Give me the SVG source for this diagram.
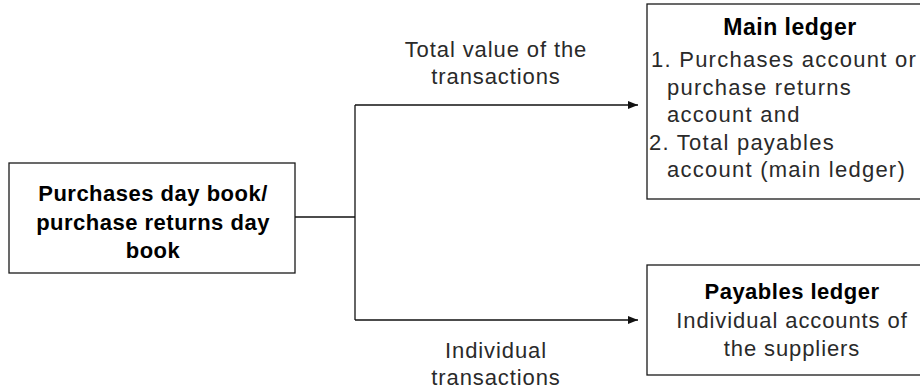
<svg xmlns="http://www.w3.org/2000/svg" width="920" height="392" viewBox="0 0 920 392">
<defs>
<style>
.box{fill:#fff;stroke:#1a1a1a;stroke-width:1.3}
.line{fill:none;stroke:#111;stroke-width:1.3}
.b{font-family:"Liberation Sans",Arial,sans-serif;font-weight:bold;font-size:22px;fill:#000;letter-spacing:0.5px}
.t{font-family:"Liberation Sans",Arial,sans-serif;font-size:22px;fill:#2a2a2a;letter-spacing:0.9px}
.w{letter-spacing:1.25px}
.c{text-anchor:middle}
</style>
<marker id="arr" viewBox="0 0 10 10" refX="10" refY="5" markerWidth="10" markerHeight="10" markerUnits="userSpaceOnUse" orient="auto">
<path d="M0,1 L10,5 L0,9 Z" fill="#111"/>
</marker>
</defs>
<rect width="920" height="392" fill="#fff"/>
<g id="connectors">
<path class="line" d="M295,217 H355"/>
<path class="line" d="M355,105 V320"/>
<path class="line" d="M355,105 H638" marker-end="url(#arr)"/>
<path class="line" d="M355,320 H638" marker-end="url(#arr)"/>
<text class="t c" x="496" y="57">Total value of the</text>
<text class="t c" x="496" y="84">transactions</text>
<text class="t c" x="496" y="358">Individual</text>
<text class="t c" x="496" y="385">transactions</text>
</g>
<g id="day-book">
<rect class="box" x="9" y="163" width="286" height="110"/>
<text class="b c" x="153" y="201">Purchases day book/</text>
<text class="b c" x="153" y="230">purchase returns day</text>
<text class="b c" x="153" y="258">book</text>
</g>
<g id="main-ledger">
<rect class="box" x="647" y="4" width="290" height="195"/>
<text class="b c" x="790" y="35" style="font-size:23px">Main ledger</text>
<text class="t w" x="651" y="67">1. Purchases account or</text>
<text class="t w" x="667" y="95">purchase returns</text>
<text class="t w" x="667" y="122">account and</text>
<text class="t w" x="649" y="150">2. Total payables</text>
<text class="t w" x="667" y="177">account (main ledger)</text>
</g>
<g id="payables-ledger">
<rect class="box" x="647" y="265" width="290" height="110"/>
<text class="b c" x="792" y="299">Payables ledger</text>
<text class="t c" x="792" y="328">Individual accounts of</text>
<text class="t c" x="792" y="356">the suppliers</text>
</g>
</svg>
